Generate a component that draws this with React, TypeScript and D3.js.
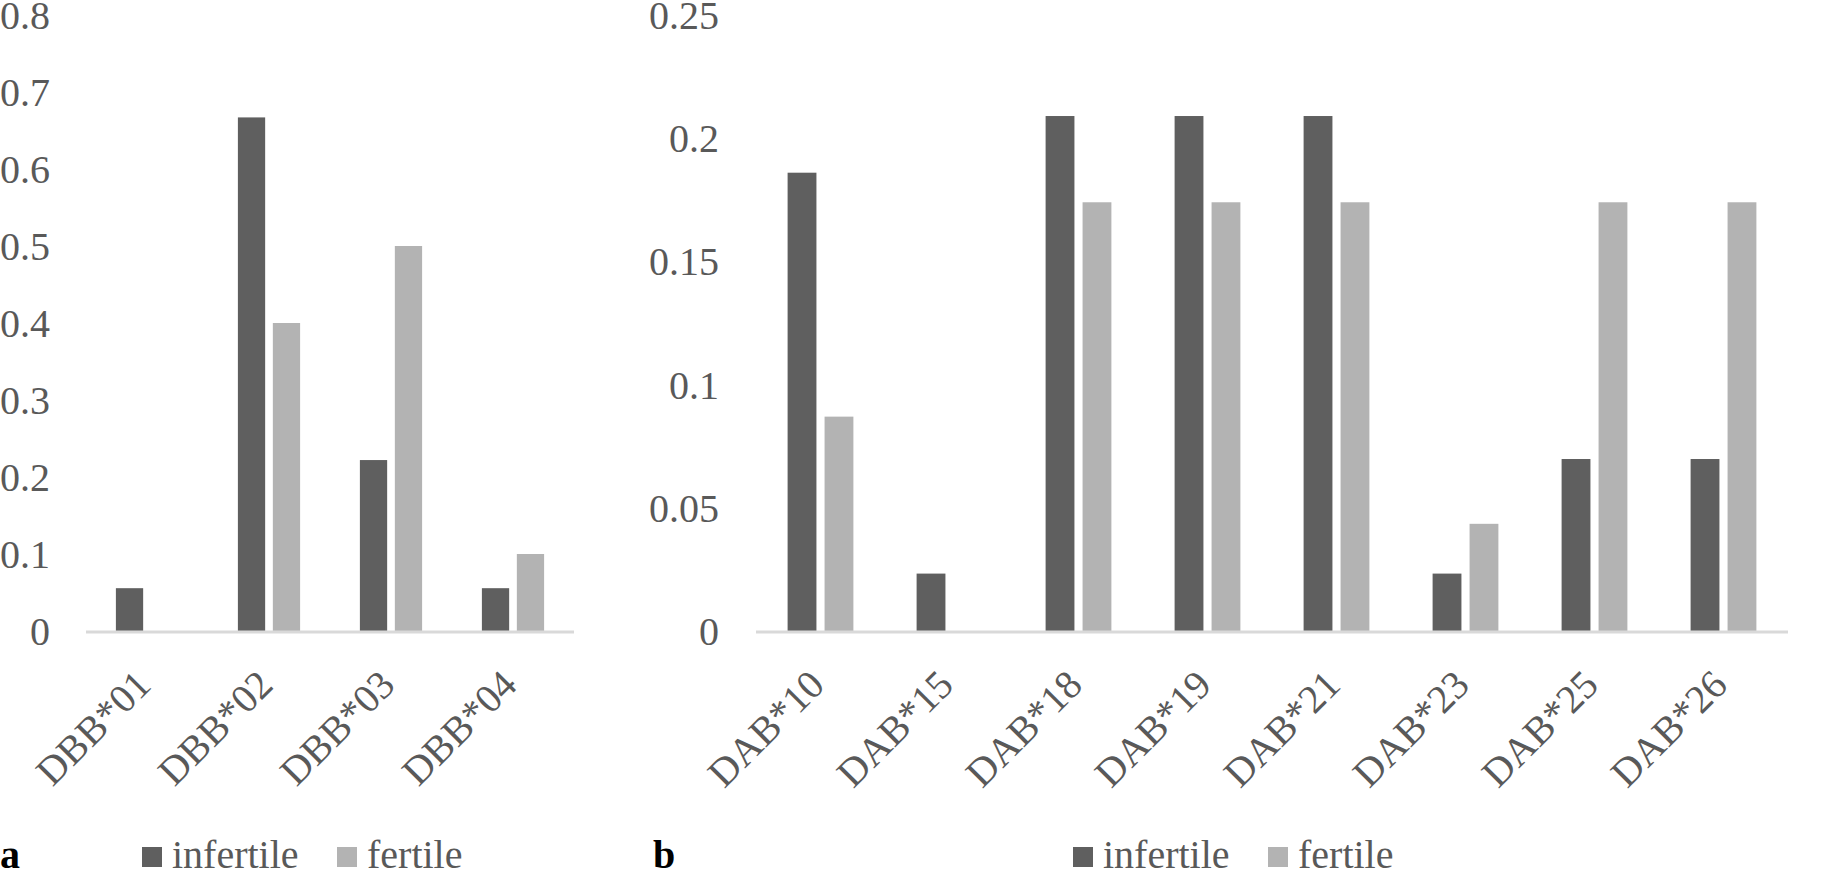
import React, { useEffect } from 'react';
import * as d3 from 'd3';

// Panel a: DBB alleles
const dbbCategories = ['DBB*01', 'DBB*02', 'DBB*03', 'DBB*04'];
const dbbInfertile = [0.0556, 0.667, 0.222, 0.0556];
const dbbFertile = [0, 0.4, 0.5, 0.1];
const dbbTicks = [0, 0.1, 0.2, 0.3, 0.4, 0.5, 0.6, 0.7, 0.8];

// Panel b: DAB alleles
const dabCategories = ['DAB*10', 'DAB*15', 'DAB*18', 'DAB*19', 'DAB*21', 'DAB*23', 'DAB*25', 'DAB*26'];
const dabInfertile = [0.186, 0.0233, 0.209, 0.209, 0.209, 0.0233, 0.0698, 0.0698];
const dabFertile = [0.087, 0, 0.174, 0.174, 0.174, 0.0435, 0.174, 0.174];
const dabTicks = [0, 0.05, 0.1, 0.15, 0.2, 0.25];

const seriesNames = ['infertile', 'fertile'];
const seriesColors = ['#5f5f5f', '#b3b3b3'];

const FONT = '"Liberation Serif", "Times New Roman", serif';
const TEXT = '#595959';

type PanelProps = {
    categories: string[];
    infertile: number[];
    fertile: number[];
    ticks: number[];
    x0: number;
    x1: number;
    labelX: number;
    letter: string;
    letterX: number;
    legendX: number;
};

const axisY = 631;
const topY = 15;

const Panel: React.FC<PanelProps> = ({ categories, infertile, fertile, ticks, x0, x1, labelX, letter, letterX, legendX }) => {
    const x = d3.scaleBand<string>().domain(categories).range([x0, x1]);
    const bw = x.bandwidth();
    const groupW = bw * 0.51;
    const xs = d3
        .scaleBand<string>()
        .domain(seriesNames)
        .range([bw / 2 - groupW / 2, bw / 2 + groupW / 2])
        .paddingInner(0.22);
    const y = d3
        .scaleLinear()
        .domain([0, d3.max(ticks) as number])
        .range([axisY, topY]);
    const fmt = (v: number) => String(+v.toFixed(2));
    const rows = categories.map((c, i) => ({ c, vals: [infertile[i], fertile[i]] }));

    return (
        <g>
            {/* y tick labels */}
            {ticks.map((t) => (
                <text key={t} x={labelX} y={y(t)} dy="0.35em" textAnchor="end" fontSize={40} fill={TEXT}>
                    {fmt(t)}
                </text>
            ))}
            {/* bars */}
            {rows.map((r) => (
                <g key={r.c} transform={`translate(${x(r.c)},0)`}>
                    {r.vals.map((v, j) =>
                        v > 0 ? (
                            <rect
                                key={j}
                                x={xs(seriesNames[j])}
                                y={y(v)}
                                width={xs.bandwidth()}
                                height={y(0) - y(v)}
                                fill={seriesColors[j]}
                            />
                        ) : null
                    )}
                </g>
            ))}
            {/* baseline */}
            <line x1={x0} x2={x1} y1={axisY + 1} y2={axisY + 1} stroke="#d9d9d9" strokeWidth={3} />
            {/* category labels */}
            {categories.map((c) => (
                <text
                    key={c}
                    transform={`translate(${(x(c) as number) + bw / 2 + 6},${axisY + 56}) rotate(-45)`}
                    textAnchor="end"
                    fontSize={40}
                    fill={TEXT}
                >
                    {c}
                </text>
            ))}
            {/* panel letter */}
            <text x={letterX} y={868} fontSize={40} fontWeight="bold" fill="#000">
                {letter}
            </text>
            {/* legend */}
            {seriesNames.map((s, j) => (
                <g key={s} transform={`translate(${legendX + j * 195},0)`}>
                    <rect x={0} y={847} width={20} height={20} fill={seriesColors[j]} />
                    <text x={30} y={868} fontSize={40} fill={TEXT}>
                        {s}
                    </text>
                </g>
            ))}
        </g>
    );
};

export default function App() {
    useEffect(() => {
        document.body.style.margin = '0';
    }, []);

    return (
        <svg width={1835} height={872} viewBox="0 0 1835 872" style={{ display: 'block', background: '#fff', fontFamily: FONT }}>
            <Panel
                categories={dbbCategories}
                infertile={dbbInfertile}
                fertile={dbbFertile}
                ticks={dbbTicks}
                x0={86}
                x1={574}
                labelX={50}
                letter="a"
                letterX={0}
                legendX={142}
            />
            <Panel
                categories={dabCategories}
                infertile={dabInfertile}
                fertile={dabFertile}
                ticks={dabTicks}
                x0={756}
                x1={1788}
                labelX={719}
                letter="b"
                letterX={653}
                legendX={1073}
            />
        </svg>
    );
}
